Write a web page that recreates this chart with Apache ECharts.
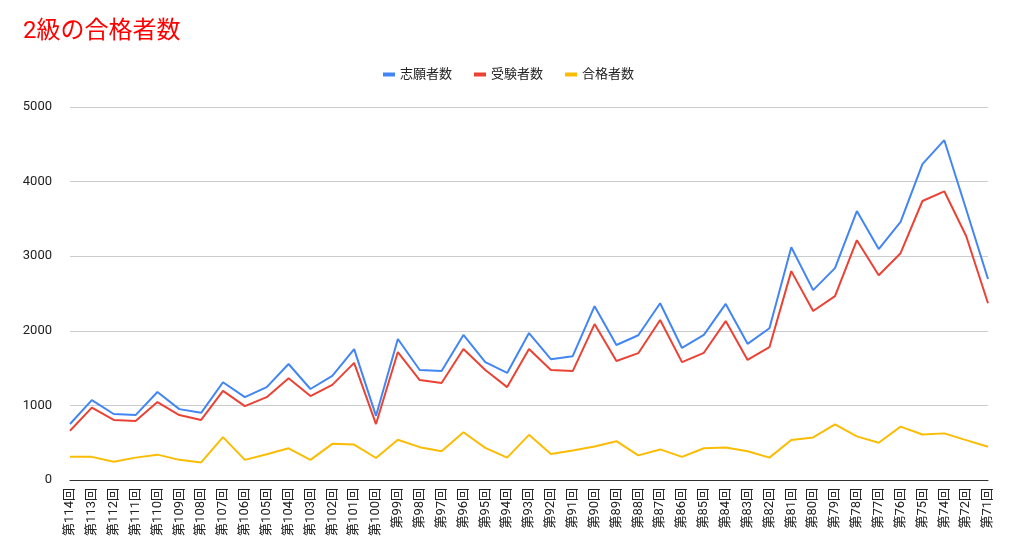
<!DOCTYPE html>
<html><head><meta charset="utf-8">
<script src="https://cdn.jsdelivr.net/npm/echarts@6/dist/echarts.min.js"></script>
<style>body{margin:0;background:#fff}#box{width:1017px;height:552px}</style>
</head><body><div id="box"></div>
<script>
var kaisu = [114,113,112,111,110,109,108,107,106,105,104,103,102,101,100,99,98,97,96,95,94,93,92,91,90,89,88,87,86,85,84,83,82,81,80,79,78,77,76,75,74,72,71];
var categories = kaisu.map(function (n) { return '第' + n + '回'; });
var shigan = [750,1070,885,870,1180,950,900,1310,1110,1245,1555,1220,1395,1755,860,1890,1475,1460,1945,1580,1435,1970,1620,1660,2330,1810,1940,2370,1770,1945,2360,1825,2035,3120,2545,2840,3605,3095,3460,4235,4555,3630,2695];
var juken = [660,970,805,790,1045,870,805,1195,990,1110,1365,1125,1275,1570,750,1715,1340,1300,1755,1475,1245,1755,1475,1460,2090,1595,1700,2145,1580,1705,2130,1610,1780,2800,2265,2465,3215,2745,3040,3740,3870,3270,2370];
var goukaku = [310,310,245,300,340,270,235,575,270,345,425,270,485,475,295,540,440,385,640,430,300,605,350,395,450,520,330,410,310,425,435,385,300,535,570,745,585,500,715,610,625,535,445];

var myChart = echarts.init(document.getElementById('box'));
function line(name, data, color) {
    return {
        name: name, type: 'line', data: data, symbol: 'none',
        lineStyle: { width: 2, color: color }, itemStyle: { color: color }
    };
}
var option = {
    textStyle: { fontFamily: 'Roboto, "Noto Sans CJK JP", sans-serif' },
    title: {
        text: '2級の合格者数', left: 18, top: 15,
        textStyle: { color: '#ff0000', fontSize: 24, fontWeight: 'normal' }
    },
    legend: {
        top: 63, left: 'center', icon: 'rect', itemWidth: 12, itemHeight: 4,
        itemGap: 22,
        textStyle: { fontSize: 13, color: '#222' }
    },
    grid: { left: 70, right: 29, top: 107, bottom: 72 },
    xAxis: {
        type: 'category', data: categories, boundaryGap: false,
        axisTick: { show: false },
        axisLine: { lineStyle: { color: '#333' } },
        axisLabel: { rotate: 90, interval: 0, color: '#222', fontSize: 13, margin: 8 }
    },
    yAxis: {
        type: 'value', min: 0, max: 5000, interval: 1000,
        axisLabel: { color: '#222', fontSize: 13, margin: 18, formatter: function (v) { return String(v); } },
        splitLine: { lineStyle: { color: '#ccc' } }
    },
    series: [
        line('志願者数', shigan, '#4285f4'),
        line('受験者数', juken, '#ea4335'),
        line('合格者数', goukaku, '#fbbc04')
    ]
};
myChart.setOption(option);
</script></body></html>
